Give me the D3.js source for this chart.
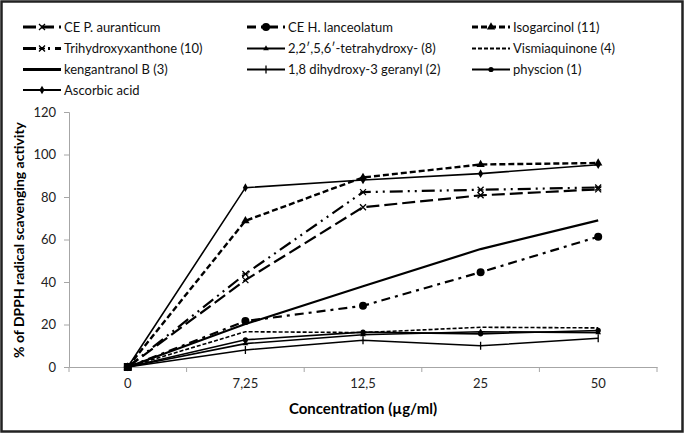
<!DOCTYPE html>
<html>
<head>
<meta charset="utf-8">
<script src="https://cdn.jsdelivr.net/npm/d3@7"></script>
<style>
  body { margin: 0; background: #fff; }
  text { font-family: Lato, "Open Sans", sans-serif; }
</style>
</head>
<body>
<div id="chart"></div>
<script>
// concentrations (category axis)
var concentrations = ["0", "7,25", "12,5", "25", "50"];
var yTicks = [0, 20, 40, 60, 80, 100, 120];

// series names and values
var seriesNames = [
  "CE P. auranticum", "CE H. lanceolatum", "Isogarcinol (11)",
  "Trihydroxyxanthone (10)", "2,2\u2032,5,6\u2032-tetrahydroxy- (8)", "Vismiaquinone (4)",
  "kengantranol B (3)", "1,8 dihydroxy-3 geranyl (2)", "physcion (1)",
  "Ascorbic acid"
];
var ceAuranticum = [0, 40.9, 75.2, 80.8, 83.6];
var ceLanceolatum = [0, 21.6, 28.8, 44.6, 61.3];
var isogarcinol = [0, 68.8, 89.2, 95.3, 96];
var trihydroxyxanthone = [0, 43.8, 82.3, 83.4, 84.5];
var tetrahydroxy = [0, 11, 15.2, 16.6, 16.2];
var vismiaquinone = [0, 16.6, 16.2, 18.7, 18.4];
var kengantranol = [0, 20.2, 38, 55.5, 69];
var dihydroxyGeranyl = [0, 8, 12.6, 10, 13.5];
var physcion = [0, 12.8, 16.4, 15.6, 17.2];
var ascorbic = [0, 84.4, 88, 91, 95.2];

var seriesValues = [ceAuranticum, ceLanceolatum, isogarcinol, trihydroxyxanthone,
  tetrahydroxy, vismiaquinone, kengantranol, dihydroxyGeranyl, physcion, ascorbic];

// look of each series: dash pattern, width, marker
var styles = [
  { dash: "13,5", w: 2.2, marker: "cross" },
  { dash: "9,5,3,5", w: 2.2, marker: "circle" },
  { dash: "6,3", w: 2.4, marker: "triangle" },
  { dash: "13,5,2,5,2,5", w: 2.2, marker: "star" },
  { dash: null, w: 1.6, marker: "smalltri" },
  { dash: "4,2", w: 1.6, marker: null },
  { dash: null, w: 2.2, marker: null },
  { dash: null, w: 1.5, marker: "plus" },
  { dash: null, w: 1.6, marker: "dot" },
  { dash: null, w: 1.6, marker: "diamond" }
];

var width = 685, height = 434;
var svg = d3.select("#chart").append("svg")
  .attr("width", width)
  .attr("height", height);

// outer frame
svg.append("rect")
  .attr("x", 1.5).attr("y", 1.5)
  .attr("width", width - 4).attr("height", height - 4)
  .attr("fill", "#fff")
  .attr("stroke", "#222")
  .attr("stroke-width", 2.5);

var xScale = d3.scaleBand()
  .domain(concentrations)
  .range([69, 657]);

var yScale = d3.scaleLinear()
  .domain([0, 120])
  .range([367, 112]);

// axes
var xAxis = svg.append("g")
  .attr("transform", "translate(0,367)")
  .call(d3.axisBottom(xScale).tickSize(0).tickPadding(12));
xAxis.select(".domain").attr("stroke", "#a6a6a6");
xAxis.selectAll("text").attr("font-size", 13).attr("fill", "#222")
  .style("font-family", "Lato, sans-serif");

// category boundary ticks
var bounds = concentrations.map(d => xScale(d)).concat([xScale.range()[1]]);
svg.selectAll(".xb").data(bounds).enter().append("line")
  .attr("x1", d => d).attr("x2", d => d)
  .attr("y1", 367).attr("y2", 372)
  .attr("stroke", "#a6a6a6");

var yAxis = svg.append("g")
  .attr("transform", "translate(69,0)")
  .call(d3.axisLeft(yScale).tickValues(yTicks).tickSize(5).tickPadding(8));
yAxis.select(".domain").attr("stroke", "#a6a6a6");
yAxis.selectAll(".tick line").attr("stroke", "#a6a6a6");
yAxis.selectAll("text").attr("font-size", 13).attr("fill", "#222")
  .style("font-family", "Lato, sans-serif");

// axis titles
svg.append("text")
  .attr("x", 363).attr("y", 414)
  .attr("text-anchor", "middle")
  .attr("font-size", 15).attr("font-weight", "bold")
  .text("Concentration (\u00b5g/ml)");

svg.append("text")
  .attr("transform", "rotate(-90)")
  .attr("x", -240).attr("y", 24)
  .attr("text-anchor", "middle")
  .attr("font-size", 14).attr("font-weight", "bold")
  .text("% of DPPH radical scavenging activity");

// marker drawing
function drawMarker(g, type, x, y) {
  if (type === "cross") {
    g.append("path").attr("d", "M" + (x - 3) + "," + (y - 3) + "L" + (x + 3) + "," + (y + 3) +
      "M" + (x + 3) + "," + (y - 3) + "L" + (x - 3) + "," + (y + 3))
      .attr("stroke", "#000").attr("stroke-width", 1.3);
  } else if (type === "star") {
    g.append("path").attr("d", "M" + (x - 3) + "," + (y - 3) + "L" + (x + 3) + "," + (y + 3) +
      "M" + (x + 3) + "," + (y - 3) + "L" + (x - 3) + "," + (y + 3) +
      "M" + (x - 3) + "," + y + "L" + (x + 3) + "," + y)
      .attr("stroke", "#000").attr("stroke-width", 1.3);
  } else if (type === "circle") {
    g.append("circle").attr("cx", x).attr("cy", y).attr("r", 4).attr("fill", "#000");
  } else if (type === "dot") {
    g.append("circle").attr("cx", x).attr("cy", y).attr("r", 2.6).attr("fill", "#000");
  } else if (type === "triangle") {
    g.append("path").attr("d", d3.symbol(d3.symbolTriangle, 30)()).attr("transform", "translate(" + x + "," + y + ")").attr("fill", "#000");
  } else if (type === "smalltri") {
    g.append("path").attr("d", d3.symbol(d3.symbolTriangle, 14)()).attr("transform", "translate(" + x + "," + y + ")").attr("fill", "#000");
  } else if (type === "diamond") {
    g.append("path").attr("d", d3.symbol(d3.symbolDiamond, 22)()).attr("transform", "translate(" + x + "," + y + ")").attr("fill", "#000");
  } else if (type === "plus") {
    g.append("path").attr("d", "M" + x + "," + (y - 4) + "L" + x + "," + (y + 4))
      .attr("stroke", "#000").attr("stroke-width", 1.3);
  }
}

var line = d3.line()
  .x((d, i) => xScale(concentrations[i]) + xScale.bandwidth() / 2)
  .y(d => yScale(d));

var plot = svg.append("g");
seriesValues.forEach(function(vals, k) {
  var st = styles[k];
  plot.append("path")
    .datum(vals)
    .attr("d", line)
    .attr("fill", "none")
    .attr("stroke", "#000")
    .attr("stroke-width", st.w)
    .attr("stroke-dasharray", st.dash);
  if (st.marker) {
    vals.forEach(function(v, i) {
      drawMarker(plot, st.marker, xScale(concentrations[i]) + xScale.bandwidth() / 2, yScale(v));
    });
  }
});
// overlapping markers at the origin
plot.append("rect")
  .attr("x", xScale("0") + xScale.bandwidth() / 2 - 4)
  .attr("y", yScale(0) - 4)
  .attr("width", 8).attr("height", 8)
  .attr("fill", "#000");

// legend
var legCols = [23, 247, 472];
var legRows = [27, 48.5, 69.5, 90];
seriesNames.forEach(function(name, k) {
  var st = styles[k];
  var lx = legCols[k % 3], ly = legRows[Math.floor(k / 3)];
  var g = svg.append("g");
  g.append("line")
    .attr("x1", lx).attr("x2", lx + 38)
    .attr("y1", ly).attr("y2", ly)
    .attr("stroke", "#000")
    .attr("stroke-width", st.w + 0.6)
    .attr("stroke-dasharray", st.dash);
  if (st.marker) drawMarker(g, st.marker, lx + 19, ly);
  g.append("text")
    .attr("x", lx + 41).attr("y", ly)
    .attr("dy", "0.35em")
    .attr("font-size", 13)
    .attr("fill", "#111")
    .text(name);
});
</script>
</body>
</html>
